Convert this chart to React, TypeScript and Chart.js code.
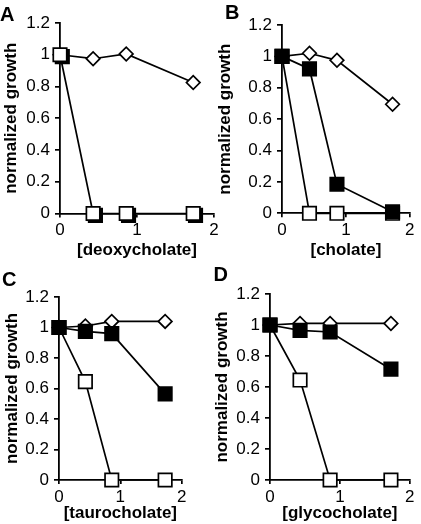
import React, { useEffect, useRef } from "react";
import { Chart, registerables } from "chart.js";

Chart.register(...registerables);
Chart.defaults.font.family = "'Liberation Sans', Arial, sans-serif";

// concentrations (x)
const xConc = [0, 0.43, 0.86, 1.73];
const xTickLabels = ["0", "1", "2"];
const yTickLabels = ["0", "0.2", "0.4", "0.6", "0.8", "1", "1.2"];

// Panel A – deoxycholate
const deoxyDiamond = [1.0, 0.975, 1.005, 0.825];
const deoxyOpen = [1.0, 0.0, 0.0, 0.0];
const deoxyFilledX = [0.03, 0.46, 0.89, 1.76];
const deoxyFilled = [0.988, -0.012, -0.012, -0.012];

// Panel B – cholate
const cholDiamond = [1.0, 1.02, 0.975, 0.695];
const cholFilled = [1.0, 0.92, 0.185, 0.01];
const cholOpen = [1.0, 0.0, 0.0, 0.0];

// Panel C – taurocholate
const tauroDiamond = [1.0, 1.01, 1.04, 1.04];
const tauroFilled = [1.0, 0.975, 0.96, 0.565];
const tauroOpen = [1.0, 0.645, 0.0, 0.0];

// Panel D – glycocholate
const glycoDiamond = [1.0, 1.01, 1.01, 1.01];
const glycoFilled = [1.0, 0.965, 0.955, 0.715];
const glycoOpen = [1.0, 0.645, 0.0, 0.0];

type Kind = "diamond" | "filled" | "open";
type Series = { kind: Kind; xs: number[]; ys: number[]; showLine?: boolean };

function makeDataset(s: Series) {
  const base: any = {
    data: s.xs.map((x, i) => ({ x, y: s.ys[i] })),
    borderColor: "#000",
    borderWidth: 1.7,
    pointBorderColor: "#000",
    pointBorderWidth: 1.7,
    showLine: s.showLine !== false,
    clip: false,
    fill: false,
    tension: 0,
  };
  if (s.kind === "diamond") {
    base.pointStyle = "rectRot";
    base.pointRadius = 6.8;
    base.pointHoverRadius = 6.8;
    base.pointBackgroundColor = "#fff";
  } else {
    base.pointStyle = "rect";
    base.pointRadius = 9.5;
    base.pointHoverRadius = 9.5;
    base.pointBackgroundColor = s.kind === "filled" ? "#000" : "#fff";
  }
  return base;
}

type PanelProps = {
  left: number;
  top: number;
  width: number;
  height: number;
  padTop: number;
  padRight: number;
  yWidth: number;
  xHeight: number;
  yTitlePad: number;
  xTitlePad: number;
  xTitle: string;
  series: Series[]; // first = drawn on top
};

function Panel(p: PanelProps) {
  const ref = useRef<HTMLCanvasElement | null>(null);
  useEffect(() => {
    if (!ref.current) return;
    const tickFont = { size: 17 };
    const titleFont = { size: 17, weight: "bold" as const, lineHeight: 1.2 };
    const chart = new Chart(ref.current, {
      type: "line",
      data: { datasets: p.series.map(makeDataset) },
      options: {
        animation: false,
        responsive: false,
        maintainAspectRatio: false,
        events: [],
        layout: { padding: { left: 0, top: p.padTop, right: p.padRight, bottom: 0 } },
        plugins: { legend: { display: false }, tooltip: { enabled: false } },
        scales: {
          x: {
            type: "linear",
            min: 0,
            max: 2,
            ticks: {
              stepSize: 1,
              color: "#000",
              font: tickFont,
              padding: 3,
              maxRotation: 0,
              callback: (v: any) => xTickLabels[Math.round(Number(v))] ?? "",
            },
            grid: { drawOnChartArea: false, drawTicks: true, tickLength: 4, color: "#000", lineWidth: 1.7 },
            border: { display: true, color: "#000", width: 1.8 },
            title: {
              display: true,
              text: p.xTitle,
              color: "#000",
              font: titleFont,
              padding: { top: 0, bottom: p.xTitlePad },
            },
            afterFit: (s: any) => {
              s.height = p.xHeight;
            },
          },
          y: {
            type: "linear",
            min: 0,
            max: 1.2,
            ticks: {
              stepSize: 0.2,
              color: "#000",
              font: tickFont,
              padding: 5,
              callback: (v: any) => yTickLabels[Math.round(Number(v) * 5)] ?? "",
            },
            grid: { drawOnChartArea: false, drawTicks: true, tickLength: 5, color: "#000", lineWidth: 1.7 },
            border: { display: true, color: "#000", width: 1.8 },
            title: {
              display: true,
              text: "normalized growth",
              color: "#000",
              font: titleFont,
              padding: { top: p.yTitlePad, bottom: 0 },
            },
            afterFit: (s: any) => {
              s.width = p.yWidth;
            },
          },
        },
      } as any,
    });
    return () => chart.destroy();
  }, []);
  return (
    <canvas
      ref={ref}
      width={p.width}
      height={p.height}
      style={{ position: "absolute", left: p.left, top: p.top, width: p.width, height: p.height }}
    />
  );
}

const letterStyle: React.CSSProperties = {
  position: "absolute",
  fontFamily: "'Liberation Sans', Arial, sans-serif",
  fontWeight: "bold",
  fontSize: 20,
  lineHeight: "20px",
  color: "#000",
};

export default function App() {
  return (
    <div style={{ position: "absolute", left: 0, top: 0, width: 421, height: 524, background: "#fff", overflow: "hidden" }}>
      <Panel
        left={0}
        top={0}
        width={232}
        height={262}
        padTop={23}
        padRight={18}
        yWidth={60}
        xHeight={48.5}
        yTitlePad={1.5}
        xTitlePad={1.8}
        xTitle="[deoxycholate]"
        series={[
          { kind: "open", xs: xConc, ys: deoxyOpen },
          { kind: "filled", xs: deoxyFilledX, ys: deoxyFilled, showLine: false },
          { kind: "diamond", xs: xConc, ys: deoxyDiamond },
        ]}
      />
      <Panel
        left={210}
        top={0}
        width={211}
        height={262}
        padTop={25}
        padRight={5}
        yWidth={72}
        xHeight={48.7}
        yTitlePad={4.8}
        xTitlePad={1.3}
        xTitle="[cholate]"
        series={[
          { kind: "filled", xs: xConc, ys: cholFilled },
          { kind: "open", xs: xConc, ys: cholOpen },
          { kind: "diamond", xs: xConc, ys: cholDiamond },
        ]}
      />
      <Panel
        left={0}
        top={262}
        width={200}
        height={262}
        padTop={35}
        padRight={18.3}
        yWidth={59}
        xHeight={44}
        yTitlePad={1.8}
        xTitlePad={0}
        xTitle="[taurocholate]"
        series={[
          { kind: "filled", xs: xConc, ys: tauroFilled },
          { kind: "open", xs: xConc, ys: tauroOpen },
          { kind: "diamond", xs: xConc, ys: tauroDiamond },
        ]}
      />
      <Panel
        left={210}
        top={262}
        width={211}
        height={262}
        padTop={32}
        padRight={6}
        yWidth={60}
        xHeight={44}
        yTitlePad={1.8}
        xTitlePad={0}
        xTitle="[glycocholate]"
        series={[
          { kind: "filled", xs: xConc, ys: glycoFilled },
          { kind: "open", xs: xConc, ys: glycoOpen },
          { kind: "diamond", xs: xConc, ys: glycoDiamond },
        ]}
      />
      <div style={{ ...letterStyle, left: 0, top: 4.4 }}>A</div>
      <div style={{ ...letterStyle, left: 225, top: 2.4 }}>B</div>
      <div style={{ ...letterStyle, left: 2, top: 269.4 }}>C</div>
      <div style={{ ...letterStyle, left: 213.5, top: 264.4 }}>D</div>
    </div>
  );
}
